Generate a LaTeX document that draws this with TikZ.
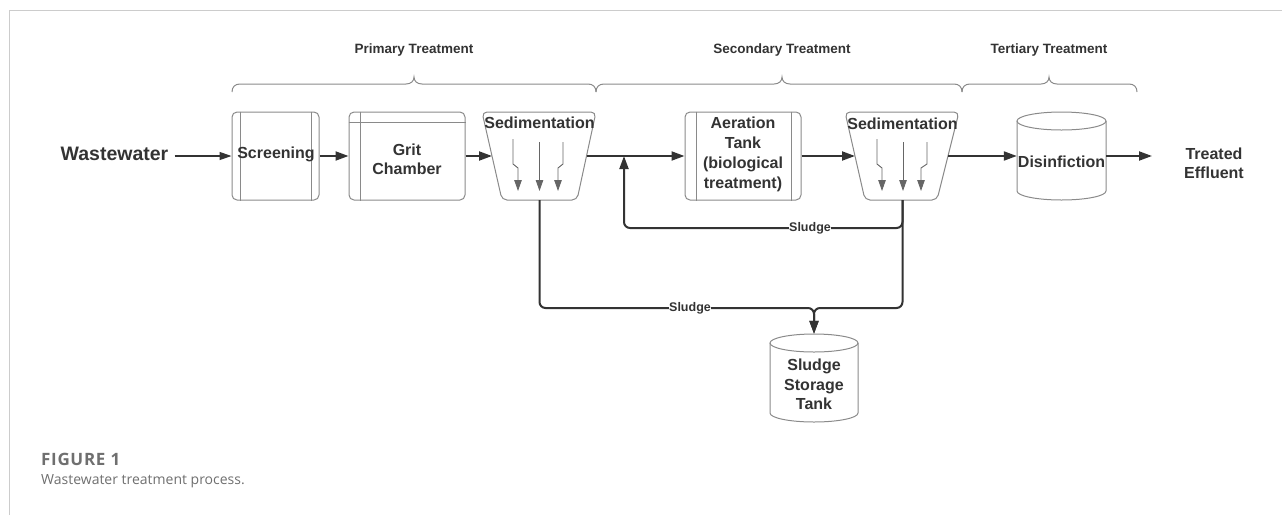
\documentclass[tikz,border=0pt]{standalone}
\usepackage{fontspec}
\setmainfont{Liberation Sans}
\newfontfamily\capfont{Open Sans}
\newfontfamily\figfont[LetterSpace=4]{Open Sans}
\usetikzlibrary{arrows.meta}
\definecolor{ink}{HTML}{333333}
\definecolor{boxline}{HTML}{8A8A8A}
\definecolor{framec}{HTML}{CCCCCC}
\definecolor{capc}{HTML}{6F6F6F}
\begin{document}
\begin{tikzpicture}[x=1pt,y=-1pt,
  lbl/.style={font=\bfseries\fontsize{16}{20}\selectfont, text=ink, align=center, inner sep=0pt},
  hdr/.style={font=\bfseries\fontsize{13.5}{15}\selectfont, text=ink, inner sep=0pt},
  sludgelbl/.style={font=\bfseries\fontsize{12.5}{14}\selectfont, text=ink, fill=white, inner sep=0.6pt},
  flow/.style={draw=ink, line width=2pt, -{Triangle[length=13pt,width=9pt]}},
  thinflow/.style={draw=ink, line width=1.2pt, -{Triangle[length=12pt,width=8pt]}},
  boxshape/.style={draw=boxline, line width=1pt, rounded corners=5pt, inner sep=0pt},
  innerline/.style={draw=boxline, line width=1pt},
  settle/.style={draw=ink!75, line width=0.9pt, -{Triangle[length=11pt,width=7.5pt]}},
  bracec/.style={draw=boxline, line width=1pt},
  sludgeflow/.style={draw=ink, line width=2pt, rounded corners=6pt},
  anchorbox/.style={minimum width=#1, minimum height=88pt, inner sep=0pt},
]
\useasboundingbox (0,0) rectangle (1282,515);
\draw[framec, line width=1pt] (9,515) -- (9,10) -- (1282,10);

% braces
\draw[bracec] (232,92) .. controls (232,87) and (235,84) .. (240,84) -- (406,84) .. controls (411,84) and (414,81) .. (414,77) .. controls (414,81) and (417,84) .. (422,84) -- (588,84) .. controls (593,84) and (596,87) .. (596,92);
\draw[bracec] (596,92) .. controls (596,87) and (599,84) .. (604,84) -- (774,84) .. controls (779,84) and (782,81) .. (782,77) .. controls (782,81) and (785,84) .. (790,84) -- (954,84) .. controls (959,84) and (962,87) .. (962,92);
\draw[bracec] (962,92) .. controls (962,87) and (965,84) .. (970,84) -- (1041,84) .. controls (1046,84) and (1049,81) .. (1049,77) .. controls (1049,81) and (1052,84) .. (1057,84) -- (1129,84) .. controls (1134,84) and (1137,87) .. (1137,92);
\node[hdr] (hp) at (414,50) {Primary Treatment};
\node[hdr] (hs) at (782,50) {Secondary Treatment};
\node[hdr] (ht) at (1049,50) {Tertiary Treatment};

% wastewater
\node[lbl, font=\bfseries\fontsize{19.5}{22}\selectfont] (ww) at (114.5,154) {Wastewater};

% screening
\node[boxshape, minimum width=87pt, minimum height=88pt] (scr) at (275.5,156) {};
\draw[innerline] ([xshift=9pt]scr.north west) -- ([xshift=9pt]scr.south west);
\draw[innerline] ([xshift=-8pt]scr.north east) -- ([xshift=-8pt]scr.south east);
\node[lbl] (scrt) at (276,154) {Screening};

% grit chamber
\node[boxshape, minimum width=116pt, minimum height=88pt] (grit) at (407,156) {};
\draw[innerline] ([xshift=12pt]grit.north west) -- ([xshift=12pt]grit.south west);
\draw[innerline] ([yshift=-11pt]grit.north west) -- ([yshift=-11pt]grit.north east);
\node[lbl, font=\bfseries\fontsize{16}{19}\selectfont] (gritt) at (407,159) {Grit\\Chamber};

% sedimentation 1
\draw[boxline, line width=1pt, rounded corners=5pt] (482,112) -- (596,112) -- (577,200) -- (502,200) -- cycle;
\coordinate (s1w) at (492,156);
\coordinate (s1e) at (586.5,156);
\coordinate (s1s) at (539.5,200);
\node[lbl] (s1t) at (539.5,123) {Sedimentation};
\draw[settle] (513,139) -- (513,164) -- (518,168) -- (518,191);
\draw[settle] (539.5,142) -- (539.5,191);
\draw[settle] (563,142) -- (563,164) -- (558,168) -- (558,191);

% aeration tank
\node[boxshape, minimum width=116pt, minimum height=88pt] (aer) at (743,156) {};
\draw[innerline] ([xshift=12pt]aer.north west) -- ([xshift=12pt]aer.south west);
\draw[innerline] ([xshift=-10pt]aer.north east) -- ([xshift=-10pt]aer.south east);
\node[lbl, font=\bfseries\fontsize{16}{20}\selectfont] (aert) at (743,154.5) {Aeration\\Tank\\(biological\\treatment)};

% sedimentation 2
\draw[boxline, line width=1pt, rounded corners=5pt] (845,112) -- (959,112) -- (937,200) -- (865,200) -- cycle;
\coordinate (s2w) at (855,156);
\coordinate (s2e) at (948,156);
\coordinate (s2s) at (902.5,200);
\node[lbl] (s2t) at (902.5,124) {Sedimentation};
\draw[settle] (877,139) -- (877,164) -- (882,168) -- (882,191);
\draw[settle] (903,142) -- (903,191);
\draw[settle] (927,142) -- (927,164) -- (921,168) -- (921,191);

% disinfection cylinder
\node[anchorbox=89pt] (dis) at (1061.5,156) {};
\draw[boxline, line width=1pt] (1061.5,121) ellipse [x radius=44.5pt, y radius=9pt];
\draw[boxline, line width=1pt] (1017,121) -- (1017,191) arc[start angle=180, end angle=360, x radius=44.5pt, y radius=9pt] -- (1106,121);
\node[lbl] (dist) at (1061.5,162) {Disinfiction};

% treated effluent
\node[lbl, font=\bfseries\fontsize{16}{19}\selectfont] (te) at (1214,163.5) {Treated\\Effluent};
\coordinate (teIn) at (1152,156);

% sludge storage tank
\node[anchorbox=88pt] (tank) at (814,378) {};
\draw[boxline, line width=1pt] (814,343) ellipse [x radius=44pt, y radius=9pt];
\draw[boxline, line width=1pt] (770,343) -- (770,413) arc[start angle=180, end angle=360, x radius=44pt, y radius=9pt] -- (858,343);
\node[lbl, font=\bfseries\fontsize{16}{19.5}\selectfont] (tankt) at (814,384.5) {Sludge\\Storage\\Tank};

% main flow
\draw[thinflow, shorten <=6pt] (ww.east |- scr.west) -- (scr.west);
\draw[flow] (scr.east) -- (grit.west);
\draw[flow] (grit.east) -- (s1w);
\draw[flow] (s1e) -- (aer.west);
\draw[flow] (aer.east) -- (s2w);
\draw[flow] (s2e) -- (dis.west);
\draw[flow] (dis.east) -- (teIn);

% sludge lines
\coordinate (j1) at (624,156);
\draw[sludgeflow, -{Triangle[length=13pt,width=9pt]}] (s2s) -- (902.5,228) -- (624,228) -- (j1);
\node[sludgelbl] (sl1) at (810,228) {Sludge};
\draw[sludgeflow, -{Triangle[length=13pt,width=9pt]}] (s1s) -- (539.5,308) -- (814,308) -- (tank.north);
\draw[sludgeflow, -{Triangle[length=13pt,width=9pt]}] (s2s) -- (902.5,308) -- (814,308) -- (tank.north);
\node[sludgelbl] (sl2) at (690,308) {Sludge};

% caption
\node[anchor=west, inner sep=0pt, font=\figfont\bfseries\fontsize{17}{20}\selectfont, text=capc] (fig) at (41,459) {FIGURE 1};
\node[anchor=west, inner sep=0pt, font=\capfont\fontsize{14}{16}\selectfont, text=capc] (cap) at (41,481) {Wastewater treatment process.};
\end{tikzpicture}
\end{document}
